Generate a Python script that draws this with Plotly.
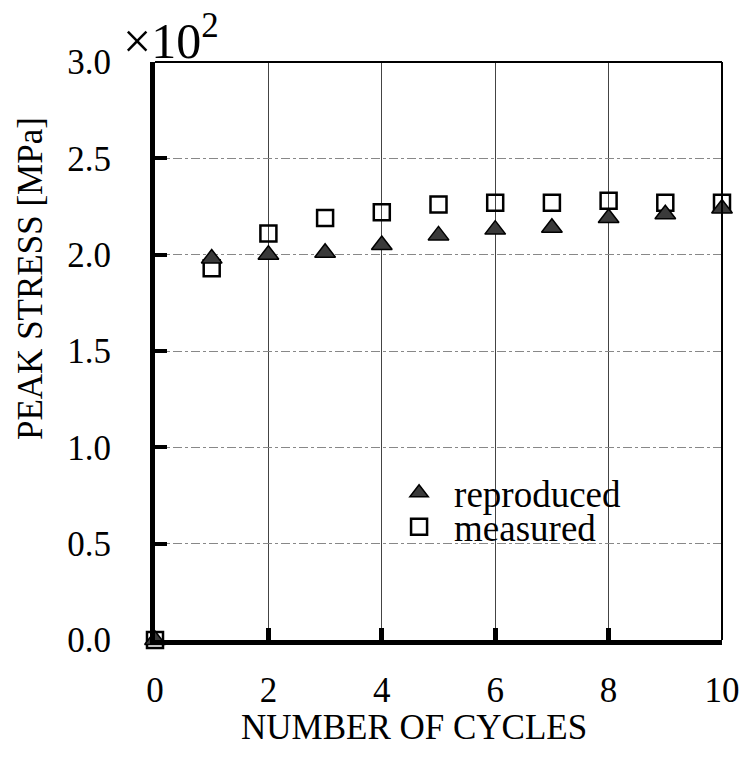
import plotly.graph_objects as go

# Cycle number and peak stress (in units of 10^2 MPa)
cycles = [0, 1, 2, 3, 4, 5, 6, 7, 8, 9, 10]
measured = [0.0, 1.93, 2.11, 2.19, 2.22, 2.26, 2.27, 2.27, 2.28, 2.27, 2.27]
reproduced = [0.0, 1.98, 2.00, 2.01, 2.05, 2.10, 2.13, 2.14, 2.19, 2.21, 2.24]

x_ticks = [0, 2, 4, 6, 8, 10]
y_ticks = [0.0, 0.5, 1.0, 1.5, 2.0, 2.5, 3.0]
y_tick_text = ["0.0", "0.5", "1.0", "1.5", "2.0", "2.5", "3.0"]

FONT = "Liberation Serif, Times New Roman, serif"

fig = go.Figure()

fig.add_trace(go.Scatter(
    x=cycles, y=measured, mode="markers", name="measured", legend="legend2",
    marker=dict(symbol="square-open", size=16, color="black", line=dict(width=2.5, color="black")),
    cliponaxis=False,
))
fig.add_trace(go.Scatter(
    x=cycles, y=reproduced, mode="markers", name="reproduced", legend="legend",
    marker=dict(symbol="triangle-up", size=18, color="#3a3a3a", line=dict(width=1.5, color="black")),
    cliponaxis=False,
))

# thin frame on the top and right edges
fig.add_shape(type="line", xref="paper", yref="paper", x0=0, x1=1, y0=1, y1=1,
              line=dict(color="black", width=2))
fig.add_shape(type="line", xref="paper", yref="paper", x0=1, x1=1, y0=0, y1=1,
              line=dict(color="black", width=2))

# scale factor of the stress axis
fig.add_annotation(xref="paper", yref="paper", x=-0.06, y=0.985, xanchor="left", yanchor="bottom",
                   text="×10<sup>2</sup>", showarrow=False,
                   font=dict(family=FONT, size=50, color="black"))

# axis titles
fig.add_annotation(xref="paper", yref="paper", x=0.456, y=-0.152, xanchor="center", yanchor="middle",
                   text="NUMBER OF CYCLES", showarrow=False,
                   font=dict(family=FONT, size=35, color="black"))
fig.add_annotation(xref="paper", yref="paper", x=-0.22, y=0.625, xanchor="center", yanchor="middle",
                   text="PEAK STRESS [MPa]", textangle=-90, showarrow=False,
                   font=dict(family=FONT, size=35, color="black"))

legend_style = dict(xanchor="left", yanchor="middle", bgcolor="rgba(0,0,0,0)",
                    font=dict(family=FONT, size=37, color="black"), itemsizing="trace",
                    itemwidth=60)

fig.update_layout(
    width=742, height=757,
    margin=dict(l=155, r=20, t=62, b=117),
    paper_bgcolor="white", plot_bgcolor="white",
    font=dict(family=FONT, size=35, color="black"),
    showlegend=True,
    legend=dict(x=0.404, y=0.254, **legend_style),
    legend2=dict(x=0.404, y=0.195, **legend_style),
    xaxis=dict(
        range=[0, 10], tickvals=x_ticks, ticks="inside", ticklen=12, tickwidth=5, tickcolor="black",
        showline=True, linewidth=5, linecolor="black", zeroline=False, automargin=False,
        showgrid=True, gridcolor="#444444", gridwidth=1,
        tickfont=dict(family=FONT, size=35), ticklabelstandoff=15,
    ),
    yaxis=dict(
        range=[0, 3.0], tickvals=y_ticks, ticktext=y_tick_text, ticks="inside", ticklen=12, tickwidth=4,
        tickcolor="black", showline=True, linewidth=5, linecolor="black", zeroline=False, automargin=False,
        showgrid=True, gridcolor="#888888", gridwidth=1, griddash="dashdot",
        tickfont=dict(family=FONT, size=35), ticklabelstandoff=32,
    ),
)

fig.write_html("out.html")
